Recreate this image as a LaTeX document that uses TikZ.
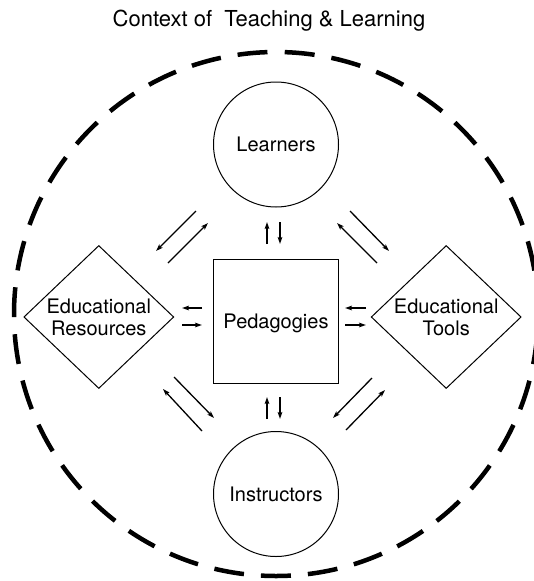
\documentclass[tikz,border=0pt]{standalone}
\usepackage{fontspec}
\setmainfont{TeX Gyre Heros}
\usetikzlibrary{shapes.geometric,arrows.meta}
\begin{document}
\begin{tikzpicture}[x=1pt,y=-1pt,
  lbl/.style={font=\fontsize{20}{22}\selectfont},
  circnode/.style={circle,draw,line width=1pt,minimum size=125pt,inner sep=0pt,lbl,text height=14.4pt,text depth=0pt},
  boxnode/.style={rectangle,draw,line width=1pt,minimum width=125pt,minimum height=124pt,inner sep=0pt,lbl,text height=14.4pt,text depth=0pt},
  diamnode/.style={diamond,draw,line width=1pt,minimum width=150pt,minimum height=143pt,inner sep=0pt,lbl,align=center},
  ctxline/.style={line width=4.5pt,dash pattern=on 30pt off 17.034pt,dash phase=38.5pt},
  arr/.style={line width=1.3pt,-{Stealth[length=7pt,width=4.6pt,inset=1.5pt]}}
]
\useasboundingbox (0,0) rectangle (534,581);
\begin{scope}
\clip (0,0) rectangle (534,581);
\coordinate (ctxc) at (276,314);
\draw[ctxline] (ctxc) ++(0,-262) arc[start angle=90,delta angle=360,radius=262pt];
\end{scope}

\node[font=\fontsize{22}{26}\selectfont,anchor=base] (title) at (269,26) {Context of\ \ Teaching \& Learning};

\node[circnode] (learn) at (276,144.5) {Learners};
\node[circnode] (instr) at (276,494) {Instructors};
\node[boxnode] (ped) at (276,321.5) {Pedagogies};
\node[diamnode] (res) at (98.8,317) {Educational\\Resources};
\node[diamnode] (tools) at (446.2,317) {Educational\\Tools};

% free arrow end points
\coordinate (a1s) at (196,211); \coordinate (a1e) at (156,251);
\coordinate (a2s) at (168,263); \coordinate (a2e) at (208,223);
\coordinate (a3s) at (377,263); \coordinate (a3e) at (337,223);
\coordinate (a4s) at (350,211); \coordinate (a4e) at (389,251);
\coordinate (a5s) at (174,377); \coordinate (a5e) at (214,418);
\coordinate (a6s) at (202,431); \coordinate (a6e) at (163,389);
\coordinate (a7s) at (372,378); \coordinate (a7e) at (333,418);
\coordinate (a8s) at (346,430); \coordinate (a8e) at (385,390);
\coordinate (h1s) at (202,308); \coordinate (h1e) at (182,308);
\coordinate (h2s) at (182,325); \coordinate (h2e) at (202,325);
\coordinate (h3s) at (366,308); \coordinate (h3e) at (345,308);
\coordinate (h4s) at (345,325); \coordinate (h4e) at (366,325);
\coordinate (v1s) at (267,244); \coordinate (v1e) at (267,222);
\coordinate (v2s) at (280,222); \coordinate (v2e) at (280,244);
\coordinate (v3s) at (267,419); \coordinate (v3e) at (267,397);
\coordinate (v4s) at (280,397); \coordinate (v4e) at (280,419);

\foreach \a in {a1,a2,a3,a4,a5,a6,a7,a8,h1,h2,h3,h4,v1,v2,v3,v4}
  \draw[arr] (\a s) -- (\a e);
\end{tikzpicture}
\end{document}
